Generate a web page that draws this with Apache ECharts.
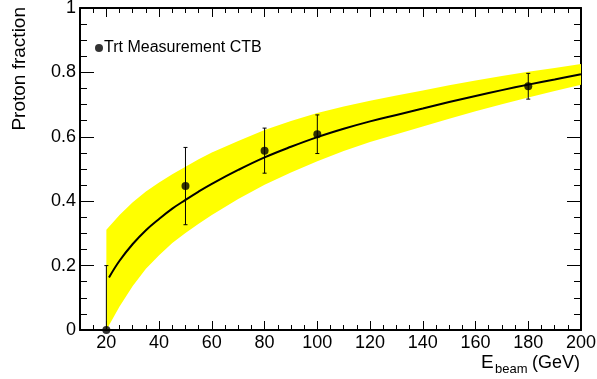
<!DOCTYPE html>
<html>
<head>
<meta charset="utf-8">
<script src="https://cdn.jsdelivr.net/npm/echarts@6/dist/echarts.min.js"></script>
<style>
  html, body { margin: 0; padding: 0; background: #fff; }
  #chart { width: 597px; height: 379px; }
</style>
</head>
<body>
<div id="chart"></div>
<script>
// Measured proton fraction per beam energy (GeV), with symmetric errors
const pointE = [20, 50, 80, 100, 180];
const pointFrac = [0, 0.447, 0.557, 0.608, 0.757];
const pointErr = [0.2, 0.12, 0.07, 0.06, 0.04];

// Fitted curve
const fitE = [21, 25, 30, 35, 40, 45, 50, 55, 60, 70, 80, 90, 100, 110, 120, 130, 140, 150, 160, 170, 180, 190, 200];
const fitFrac = [0.163, 0.215, 0.267, 0.310, 0.345, 0.377, 0.404, 0.430, 0.454, 0.497, 0.536, 0.569, 0.599, 0.625, 0.648, 0.668, 0.688, 0.708, 0.727, 0.745, 0.762, 0.778, 0.794];

// Uncertainty band of the fit
const bandE = [20, 25, 30, 35, 40, 45, 50, 55, 60, 70, 80, 90, 100, 110, 120, 130, 140, 150, 160, 170, 180, 190, 200];
const bandHigh = [0.311, 0.357, 0.397, 0.430, 0.458, 0.484, 0.507, 0.530, 0.551, 0.587, 0.621, 0.649, 0.674, 0.694, 0.712, 0.728, 0.744, 0.760, 0.775, 0.789, 0.802, 0.814, 0.826];
const bandLow = [0.000, 0.073, 0.137, 0.190, 0.232, 0.270, 0.301, 0.330, 0.357, 0.407, 0.451, 0.489, 0.524, 0.556, 0.584, 0.608, 0.632, 0.656, 0.679, 0.701, 0.722, 0.742, 0.762];

// Tick positions
const xMajorTicks = [20, 40, 60, 80, 100, 120, 140, 160, 180, 200];
const xMinorTicks = [10, 15, 25, 30, 35, 45, 50, 55, 65, 70, 75, 85, 90, 95, 105, 110, 115, 125, 130, 135, 145, 150, 155, 165, 170, 175, 185, 190, 195];

const seriesName = 'Trt Measurement CTB';
const FONT = '"Liberation Sans", Arial, Helvetica, sans-serif';
const black = '#000';

const chart = echarts.init(document.getElementById('chart'), null, { renderer: 'canvas' });

function xAxisDef(position, ticks, length, withLine, withLabels) {
  return {
    type: 'value', gridIndex: 0, position: position, min: 10, max: 200,
    axisLine: { show: withLine, onZero: false, lineStyle: { color: black, width: 2 } },
    axisTick: { show: true, inside: true, length: length, customValues: ticks, lineStyle: { color: black, width: 1 } },
    axisLabel: withLabels
      ? { show: true, customValues: ticks, margin: 4, fontSize: 18, color: black, fontFamily: FONT }
      : { show: false },
    splitLine: { show: false }
  };
}

function yAxisDef(position, withLabels) {
  return {
    type: 'value', gridIndex: 0, position: position, min: 0, max: 1, interval: 0.2,
    axisLine: { show: true, onZero: false, lineStyle: { color: black, width: 2 } },
    axisTick: { show: true, inside: true, length: 14, lineStyle: { color: black, width: 1 } },
    minorTick: { show: true, splitNumber: 4, length: 7, lineStyle: { color: black, width: 1 } },
    axisLabel: withLabels
      ? { show: true, margin: 4, fontSize: 18, color: black, fontFamily: FONT }
      : { show: false },
    splitLine: { show: false },
    minorSplitLine: { show: false }
  };
}

function label(text, x, y, size, align, rotation) {
  return {
    type: 'text', x: x, y: y, rotation: rotation || 0, z: 10,
    style: { text: text, fontSize: size, fontFamily: FONT, fill: black, align: align, verticalAlign: 'middle' }
  };
}

const option = {
  animation: false,
  backgroundColor: '#fff',
  grid: { left: 80, right: 16, top: 8, bottom: 49, containLabel: false, outerBoundsMode: 'none' },
  legend: {
    data: [seriesName],
    left: 95, top: 40, padding: 0,
    icon: 'circle', itemWidth: 8, itemHeight: 8,
    textStyle: { fontSize: 16, color: black, fontFamily: FONT, padding: [0, 0, 0, -4] }
  },
  xAxis: [
    xAxisDef('bottom', xMajorTicks, 9, true, true),
    xAxisDef('bottom', xMinorTicks, 5, false, false),
    xAxisDef('top', xMajorTicks, 9, true, false),
    xAxisDef('top', xMinorTicks, 5, false, false)
  ],
  yAxis: [
    yAxisDef('left', true),
    yAxisDef('right', false)
  ],
  graphic: [
    label('Proton fraction', 20, 7, 19, 'right', Math.PI / 2),
    label('E', 481, 363, 19, 'left'),
    label('beam', 495, 369, 13, 'left'),
    label('(GeV)', 580, 363, 18, 'right')
  ],
  series: [
    {
      name: 'band', type: 'custom', xAxisIndex: 0, yAxisIndex: 0, clip: true, z: 1, silent: true,
      data: [[bandE[0], bandLow[0]]],
      encode: { x: 0, y: 1 },
      renderItem: function (params, api) {
        const pts = [];
        for (let i = 0; i < bandE.length; i++) pts.push(api.coord([bandE[i], bandHigh[i]]));
        for (let i = bandE.length - 1; i >= 0; i--) pts.push(api.coord([bandE[i], bandLow[i]]));
        return { type: 'polygon', shape: { points: pts }, style: { fill: '#ffff00', stroke: null } };
      }
    },
    {
      name: 'fit', type: 'line', xAxisIndex: 0, yAxisIndex: 0, z: 2,
      data: fitE.map((e, i) => [e, fitFrac[i]]),
      smooth: 0.4, showSymbol: false, symbol: 'none',
      lineStyle: { color: black, width: 2 }
    },
    {
      name: 'errors', type: 'custom', xAxisIndex: 0, yAxisIndex: 0, clip: true, z: 3,
      data: pointE.map((e, i) => [e, pointFrac[i], pointErr[i]]),
      encode: { x: 0, y: 1 },
      renderItem: function (params, api) {
        const x = api.value(0), y = api.value(1), err = api.value(2);
        const top = api.coord([x, y + err]);
        const bot = api.coord([x, y - err]);
        const w = 2;
        const st = { stroke: black, lineWidth: 1 };
        return {
          type: 'group',
          children: [
            { type: 'line', shape: { x1: top[0], y1: top[1], x2: bot[0], y2: bot[1] }, style: st },
            { type: 'line', shape: { x1: top[0] - w, y1: top[1], x2: top[0] + w, y2: top[1] }, style: st },
            { type: 'line', shape: { x1: bot[0] - w, y1: bot[1], x2: bot[0] + w, y2: bot[1] }, style: st }
          ]
        };
      }
    },
    {
      name: seriesName, type: 'scatter', xAxisIndex: 0, yAxisIndex: 0, z: 5, clip: false,
      data: pointE.map((e, i) => [e, pointFrac[i]]),
      symbol: 'circle', symbolSize: 8,
      itemStyle: { color: black }
    }
  ]
};

chart.setOption(option);
</script>
</body>
</html>
